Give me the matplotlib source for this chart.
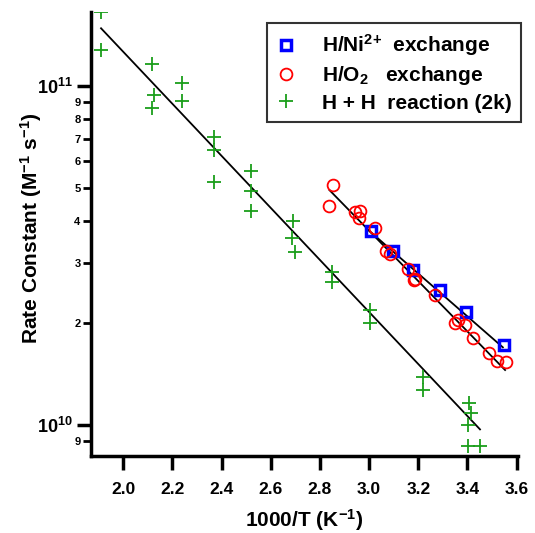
import numpy as np
import matplotlib
matplotlib.use("Agg")
import matplotlib.pyplot as plt
from matplotlib.ticker import FixedLocator, FixedFormatter

plt.rcParams['font.family'] = ['Liberation Sans', 'DejaVu Sans']
plt.rcParams['font.weight'] = 'bold'
plt.rcParams['mathtext.fontset'] = 'custom'
plt.rcParams['mathtext.rm'] = 'Liberation Sans:bold'
plt.rcParams['mathtext.bf'] = 'Liberation Sans:bold'
plt.rcParams['mathtext.default'] = 'bf'

# H/Ni2+ exchange (blue squares)
ni_x = [3.006, 3.096, 3.178, 3.290, 3.394, 3.550]
ni_k = [3.74e10, 3.27e10, 2.87e10, 2.50e10, 2.15e10, 1.72e10]

# H/O2 exchange (red circles)
o2_x = [2.854, 2.837, 2.941, 2.965, 2.958, 3.026, 3.070, 3.083, 3.157, 3.185,
        3.181, 3.270, 3.351, 3.363, 3.392, 3.421, 3.489, 3.520, 3.557]
o2_k = [5.10e10, 4.43e10, 4.26e10, 4.28e10, 4.07e10, 3.82e10, 3.26e10, 3.19e10,
        2.88e10, 2.70e10, 2.67e10, 2.42e10, 2.00e10, 2.04e10, 1.97e10, 1.80e10,
        1.63e10, 1.545e10, 1.53e10]

# H + H reaction (2k) (green crosses)
hh_x = [1.910, 1.910, 2.119, 2.126, 2.119, 2.241, 2.241, 2.370, 2.370, 2.370,
        2.521, 2.521, 2.521, 2.690, 2.688, 2.700, 2.848, 2.848, 3.002, 3.002,
        3.218, 3.218, 3.405, 3.415, 3.401, 3.401, 3.449]
hh_k = [1.656e11, 1.277e11, 1.159e11, 9.39e10, 8.63e10, 1.023e11, 9.03e10,
        7.06e10, 6.48e10, 5.21e10, 5.63e10, 4.90e10, 4.27e10, 4.00e10, 3.55e10,
        3.24e10, 2.83e10, 2.64e10, 2.19e10, 2.00e10, 1.39e10, 1.27e10, 1.164e10,
        1.083e10, 0.998e10, 8.67e9, 8.67e9]

# fitted Arrhenius lines (end points)
ni_fit_x = [2.988, 3.544]
ni_fit_k = [3.81e10, 1.695e10]
o2_fit_x = [2.839, 3.553]
o2_fit_k = [4.93e10, 1.453e10]
hh_fit_x = [1.910, 3.451]
hh_fit_k = [1.48e11, 9.71e9]

xticks = [2.0, 2.2, 2.4, 2.6, 2.8, 3.0, 3.2, 3.4, 3.6]
major_k = [1e10, 1e11]
major_labels = [r'$\mathbf{10^{10}}$', r'$\mathbf{10^{11}}$']
minor_k = [9e9, 2e10, 3e10, 4e10, 5e10, 6e10, 7e10, 8e10, 9e10]
minor_labels = ['9', '2', '3', '4', '5', '6', '7', '8', '9']

fig = plt.figure(figsize=(5.35, 5.33), dpi=100)
ax = fig.add_axes([0.170, 0.145, 0.798, 0.833])

green = '#1a9e1a'
ax.plot(hh_fit_x, hh_fit_k, color='black', lw=1.3)
ax.plot(o2_fit_x, o2_fit_k, color='black', lw=1.3)
ax.plot(ni_fit_x, ni_fit_k, color='black', lw=1.3)

ax.plot(ni_x, ni_k, ls='none', marker='s', ms=7.5, mfc='none', mec='#0000ff', mew=2.5,
        label=r'H/Ni$^{2{+}}$  exchange')
ax.plot(o2_x, o2_k, ls='none', marker='o', ms=8.5, mfc='none', mec='#ff0000', mew=1.3,
        label=r'H/O$_2$   exchange')
ax.plot(hh_x, hh_k, ls='none', marker='+', ms=10, mec=green, mew=1.3,
        label='H + H  reaction (2k)')

ax.set_yscale('log')
ax.set_xlim(1.869, 3.605)
ax.set_ylim(8.12e9, 1.656e11)

ax.set_xticks(xticks)
ax.set_xticklabels(['%.1f' % v for v in xticks])
ax.yaxis.set_major_locator(FixedLocator(major_k))
ax.yaxis.set_major_formatter(FixedFormatter(major_labels))
ax.yaxis.set_minor_locator(FixedLocator(minor_k))
ax.yaxis.set_minor_formatter(FixedFormatter(minor_labels))

for side in ['top', 'right']:
    ax.spines[side].set_visible(False)
for side in ['left', 'bottom']:
    ax.spines[side].set_linewidth(2.5)

ax.tick_params(axis='x', which='major', direction='out', length=10, width=2.5,
               labelsize=12.5, pad=9)
ax.tick_params(axis='y', which='major', direction='out', length=10, width=2.5,
               labelsize=13, pad=3)
ax.tick_params(axis='y', which='minor', direction='out', length=6, width=2,
               labelsize=8, pad=1.5)

ax.set_xlabel(r'1000/T (K$^{-1}$)', fontsize=15, fontweight='bold', labelpad=7)
ax.set_ylabel(r'Rate Constant (M$^{-1}$ s$^{-1}$)', fontsize=15, fontweight='bold')
ax.yaxis.set_label_coords(-0.11, 0.512)

leg = ax.legend(loc='upper right', bbox_to_anchor=(1.007, 0.975), fontsize=15,
                frameon=True, fancybox=False, borderpad=0.45, handlelength=1.0,
                handletextpad=1.2, labelspacing=0.3, borderaxespad=0.0)
leg.get_frame().set_edgecolor('black')
leg.get_frame().set_linewidth(1.5)
for t in leg.get_texts():
    t.set_fontweight('bold')

fig.savefig('out.png', dpi=100)
